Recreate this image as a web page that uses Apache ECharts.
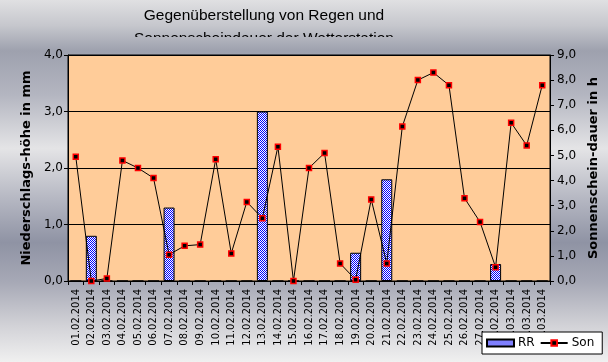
<!DOCTYPE html>
<html>
<head>
<meta charset="utf-8">
<script src="https://cdn.jsdelivr.net/npm/echarts@6/dist/echarts.min.js"></script>
<style>html,body{margin:0;padding:0;background:#fff}#c{width:608px;height:362px}</style>
</head>
<body>
<div id="c"></div>
<script>
var categories = ['01.02.2014','02.02.2014','03.02.2014','04.02.2014','05.02.2014','06.02.2014','07.02.2014','08.02.2014','09.02.2014','10.02.2014','11.02.2014','12.02.2014','13.02.2014','14.02.2014','15.02.2014','16.02.2014','17.02.2014','18.02.2014','19.02.2014','20.02.2014','21.02.2014','22.02.2014','23.02.2014','24.02.2014','25.02.2014','26.02.2014','27.02.2014','28.02.2014','01.03.2014','02.03.2014','03.03.2014'];
var rainRR = [0,0.8,0,0,0,0,1.3,0,0,0,0,0,3.0,0,0,0,0,0,0.5,0,1.8,0,0,0,0,0,0,0.3,0,0,0];
var sunSon = [4.95,0.0,0.1,4.8,4.5,4.1,1.05,1.4,1.45,4.85,1.1,3.15,2.5,5.35,0.0,4.5,5.1,0.7,0.05,3.25,0.7,6.15,8.0,8.3,7.8,3.3,2.35,0.55,6.3,5.4,7.8];
var titleLines = ['Gegenüberstellung von Regen und', 'Sonnenscheindauer der Wetterstation'];
var leftName = 'Niederschlags-höhe in mm';
var rightName = 'Sonnenschein-dauer in h';

var pc = document.createElement('canvas');
pc.width = 2; pc.height = 2;
var pctx = pc.getContext('2d');
pctx.fillStyle = '#ffffff'; pctx.fillRect(0,0,2,2);
pctx.fillStyle = '#0000ff'; pctx.fillRect(0,0,1,1); pctx.fillRect(1,1,1,1);
var checker = {image: pc, repeat: 'repeat'};

var stops = [
  {offset:0, color:'#e0e0e2'},
  {offset:0.07, color:'#c6c7cd'},
  {offset:0.14, color:'#9ea1ae'},
  {offset:0.26, color:'#b3b5c0'},
  {offset:0.41, color:'#e4e4e6'},
  {offset:0.55, color:'#b5b7c2'},
  {offset:0.67, color:'#8f93a4'},
  {offset:0.78, color:'#a7a9b6'},
  {offset:0.90, color:'#d2d2d7'},
  {offset:1, color:'#f0f0f0'}
];
function bgGrad(){ return new echarts.graphic.LinearGradient(0,0,0,362,stops,true); }
function fmt(v){ return v.toFixed(1).replace('.', ','); }

var chart = echarts.init(document.getElementById('c'), null, {renderer:'canvas'});
chart.setOption({
  animation: false,
  graphic: [
    {type:'rect', z:-100, silent:true, shape:{x:0,y:0,width:608,height:362}, style:{fill:bgGrad()}},
    {type:'text', z:50, silent:true, style:{x:264, y:8, text:titleLines[0], fill:'#000', font:'15.5px "Liberation Sans", Arial, sans-serif', textAlign:'center', textVerticalAlign:'top'}},
    {type:'text', z:50, silent:true, style:{x:264, y:31, text:titleLines[1], fill:'#000', font:'15.5px "Liberation Sans", Arial, sans-serif', textAlign:'center', textVerticalAlign:'top'}},
    {type:'rect', z:60, silent:true, shape:{x:100,y:37,width:340,height:14}, style:{fill:bgGrad()}}
  ],
  grid: {left:68, right:57, top:55, bottom:81, show:true, backgroundColor:'#FFCC99', borderColor:'#000', borderWidth:1},
  legend: {
    left:482, top:332, orient:'horizontal',
    backgroundColor:'#fff', borderColor:'#000', borderWidth:1, borderRadius:0,
    padding:[5,8,5,4], itemGap:5, itemWidth:27, itemHeight:7,
    textStyle:{fontFamily:'"DejaVu Sans", sans-serif', fontSize:12, color:'#000', padding:[0,0,0,-1]},
    data:[{name:'RR', icon:'rect'}, {name:'Son'}]
  },
  xAxis: {
    type:'category', data:categories, boundaryGap:true,
    axisLine:{lineStyle:{color:'#000', width:1}},
    axisTick:{show:true, interval:0, length:4, lineStyle:{color:'#000'}},
    axisLabel:{interval:0, rotate:90, margin:8, color:'#000', fontSize:11, fontFamily:'"Liberation Sans Narrow", "DejaVu Sans Condensed", sans-serif'},
    splitLine:{show:false}
  },
  yAxis: [
    {type:'value', min:0, max:4, interval:1, position:'left',
     name:leftName, nameLocation:'middle', nameRotate:90, nameGap:34,
     nameTextStyle:{fontFamily:'"DejaVu Sans", sans-serif', fontWeight:'bold', fontSize:13, color:'#000'},
     axisLine:{show:true, lineStyle:{color:'#000'}},
     axisTick:{show:true, length:4, lineStyle:{color:'#000'}},
     axisLabel:{formatter:fmt, margin:5, color:'#000', fontSize:12, fontFamily:'"DejaVu Sans", sans-serif'},
     splitLine:{show:true, lineStyle:{color:'#000', width:1}}},
    {type:'value', min:0, max:9, interval:1, position:'right',
     name:rightName, nameLocation:'middle', nameRotate:90, nameGap:33,
     nameTextStyle:{fontFamily:'"DejaVu Sans", sans-serif', fontWeight:'bold', fontSize:13, color:'#000'},
     axisLine:{show:true, lineStyle:{color:'#000'}},
     axisTick:{show:true, length:4, lineStyle:{color:'#000'}},
     axisLabel:{formatter:fmt, margin:7, color:'#000', fontSize:12, fontFamily:'"DejaVu Sans", sans-serif'},
     splitLine:{show:false}}
  ],
  series: [
    {name:'RR', type:'bar', yAxisIndex:0, data:rainRR, barWidth:11,
     itemStyle:{color:checker, borderColor:'#000', borderWidth:1}},
    {name:'Son', type:'line', yAxisIndex:1, data:sunSon,
     symbol:'rect', symbolSize:5, showAllSymbol:true,
     lineStyle:{color:'#000', width:1},
     itemStyle:{color:'#000', borderColor:'#ff0000', borderWidth:1.5}}
  ]
});
</script>
</body>
</html>
